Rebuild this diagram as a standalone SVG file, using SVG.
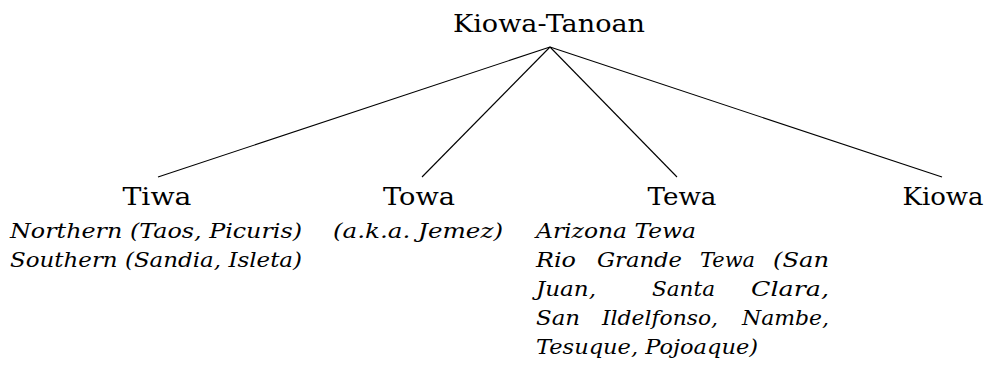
<svg xmlns="http://www.w3.org/2000/svg" width="989" height="372" viewBox="0 0 989 372">
<style>
text{font-family:'DejaVu Serif','Liberation Serif','Times New Roman',serif;fill:#000}
.h{font-size:25px;text-anchor:middle}
.i{font-style:italic;font-size:20px}
.e{stroke:#000;stroke-width:1.1;fill:none}
</style>
<rect width="989" height="372" fill="#fff"/>
<g id="connectors">
<line class="e" x1="550" y1="47" x2="158" y2="177"/>
<line class="e" x1="550" y1="47" x2="422" y2="177"/>
<line class="e" x1="550" y1="47" x2="677" y2="177"/>
<line class="e" x1="550" y1="47" x2="942" y2="177"/>
</g>
<g id="root"><text class="h" x="549" y="32" textLength="192" lengthAdjust="spacingAndGlyphs">Kiowa-Tanoan</text></g>
<g id="tiwa">
<text class="h" x="157" y="205" textLength="69" lengthAdjust="spacingAndGlyphs">Tiwa</text>
<text class="i" x="10" y="238" textLength="292" lengthAdjust="spacingAndGlyphs">Northern (Taos, Picuris)</text>
<text class="i" x="10" y="267" textLength="292" lengthAdjust="spacingAndGlyphs">Southern (Sandia, Isleta)</text>
</g>
<g id="towa">
<text class="h" x="419" y="205" textLength="72" lengthAdjust="spacingAndGlyphs">Towa</text>
<text class="i" x="333" y="238" textLength="170" lengthAdjust="spacingAndGlyphs">(a.k.a.  Jemez)</text>
</g>
<g id="tewa">
<text class="h" x="682" y="205" textLength="69" lengthAdjust="spacingAndGlyphs">Tewa</text>
<text class="i" x="536" y="238" textLength="160" lengthAdjust="spacingAndGlyphs">Arizona Tewa</text>
<text class="i" x="536" y="267" textLength="40" lengthAdjust="spacingAndGlyphs">Rio</text>
<text class="i" x="597" y="267" textLength="85" lengthAdjust="spacingAndGlyphs">Grande</text>
<text class="i" x="700" y="267" textLength="55" lengthAdjust="spacingAndGlyphs">Tewa</text>
<text class="i" x="773" y="267" textLength="56" lengthAdjust="spacingAndGlyphs">(San</text>
<text class="i" x="536" y="296" textLength="60" lengthAdjust="spacingAndGlyphs">Juan,</text>
<text class="i" x="652" y="296" textLength="63" lengthAdjust="spacingAndGlyphs">Santa</text>
<text class="i" x="751" y="296" textLength="78" lengthAdjust="spacingAndGlyphs">Clara,</text>
<text class="i" x="536" y="325" textLength="44" lengthAdjust="spacingAndGlyphs">San</text>
<text class="i" x="602" y="325" textLength="116" lengthAdjust="spacingAndGlyphs">Ildelfonso,</text>
<text class="i" x="742" y="325" textLength="87" lengthAdjust="spacingAndGlyphs">Nambe,</text>
<text class="i" x="536" y="354" textLength="222" lengthAdjust="spacingAndGlyphs">Tesuque, Pojoaque)</text>
</g>
<g id="kiowa">
<text class="h" x="943" y="205" textLength="81" lengthAdjust="spacingAndGlyphs">Kiowa</text>
</g>
</svg>
